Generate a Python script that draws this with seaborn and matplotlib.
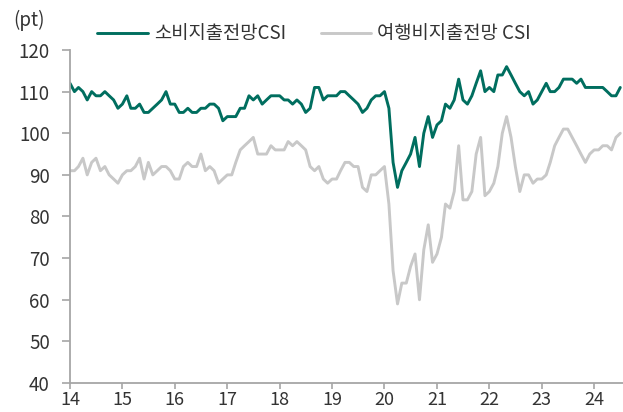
import pandas as pd
import matplotlib.pyplot as plt
import matplotlib.dates as mdates
import seaborn as sns

# monthly values, Jan 2014 - Jul 2024
consumption_csi = [
    112, 110, 111, 110, 108, 110, 109, 109, 110, 109, 108, 106,  # 2014
    107, 109, 106, 106, 107, 105, 105, 106, 107, 108, 110, 107,  # 2015
    107, 105, 105, 106, 105, 105, 106, 106, 107, 107, 106, 103,  # 2016
    104, 104, 104, 106, 106, 109, 108, 109, 107, 108, 109, 109,  # 2017
    109, 108, 108, 107, 108, 107, 105, 106, 111, 111, 108, 109,  # 2018
    109, 109, 110, 110, 109, 108, 107, 105, 106, 108, 109, 109,  # 2019
    110, 106, 93, 87, 91, 93, 95, 99, 92, 100, 104, 99,          # 2020
    102, 103, 107, 106, 108, 113, 108, 107, 109, 112, 115, 110,  # 2021
    111, 110, 114, 114, 116, 114, 112, 110, 109, 110, 107, 108,  # 2022
    110, 112, 110, 110, 111, 113, 113, 113, 112, 113, 111, 111,  # 2023
    111, 111, 111, 110, 109, 109, 111,                           # 2024
]
travel_csi = [
    91, 91, 92, 94, 90, 93, 94, 91, 92, 90, 89, 88,
    90, 91, 91, 92, 94, 89, 93, 90, 91, 92, 92, 91,
    89, 89, 92, 93, 92, 92, 95, 91, 92, 91, 88, 89,
    90, 90, 93, 96, 97, 98, 99, 95, 95, 95, 97, 96,
    96, 96, 98, 97, 98, 97, 96, 92, 91, 92, 89, 88,
    89, 89, 91, 93, 93, 92, 92, 87, 86, 90, 90, 91,
    92, 83, 67, 59, 64, 64, 68, 71, 60, 72, 78, 69,
    71, 75, 83, 82, 86, 97, 84, 84, 86, 95, 99, 85,
    86, 88, 92, 100, 104, 99, 92, 86, 90, 90, 88, 89,
    89, 90, 93, 97, 99, 101, 101, 99, 97, 95, 93, 95,
    96, 96, 97, 97, 96, 99, 100,
]
series_names = ['소비지출전망CSI', '여행비지출전망 CSI']
y_ticks = [40, 50, 60, 70, 80, 90, 100, 110, 120]

months = pd.date_range('2014-01-01', periods=len(consumption_csi), freq='MS')
df = pd.DataFrame({'month': months,
                   series_names[0]: consumption_csi,
                   series_names[1]: travel_csi})
long_df = df.melt(id_vars='month', var_name='series', value_name='value')

sns.set_theme(style='white')
plt.rcParams['font.family'] = ['Noto Sans CJK KR', 'DejaVu Sans']

text_color = '#333333'
axis_color = '#a6a6a6'
fs = 13.5

fig = plt.figure(figsize=(6.23, 4.12), dpi=100)
ax = fig.add_axes([70 / 623, 29 / 412, 553 / 623, 333 / 412])

sns.lineplot(data=long_df, x='month', y='value', hue='series',
             palette=['#006e5f', '#c8c8c8'], linewidth=2.1, ax=ax)

ax.set_ylim(40, 120)
ax.set_yticks(y_ticks)
ax.set_xlim(pd.Timestamp('2014-01-01'), pd.Timestamp('2024-07-20'))
ax.xaxis.set_major_locator(mdates.YearLocator())
ax.xaxis.set_major_formatter(mdates.DateFormatter('%y'))
ax.set_xlabel('')
ax.set_ylabel('')

sns.despine(ax=ax)
for side in ['left', 'bottom']:
    ax.spines[side].set_color(axis_color)
    ax.spines[side].set_linewidth(1.3)
ax.tick_params(axis='y', which='major', left=True, length=5.5, width=1.2,
               color=axis_color, pad=9, labelsize=fs, labelcolor=text_color)
ax.tick_params(axis='x', which='major', bottom=True, length=4, width=1.2,
               color=axis_color, pad=1.5, labelsize=13, labelcolor=text_color)

sns.move_legend(ax, 'center left', bbox_to_anchor=((97 - 70) / 553, (383 - 34) / 333),
                ncol=2, frameon=False, title=None, fontsize=fs,
                handlelength=2.7, handletextpad=0.33, columnspacing=1.85,
                borderpad=0, borderaxespad=0)
for t in ax.get_legend().get_texts():
    t.set_color(text_color)

fig.text(13 / 623, 1 - 20 / 412, '(pt)', fontsize=fs, color=text_color, va='center')

fig.savefig('out.png', dpi=100)
